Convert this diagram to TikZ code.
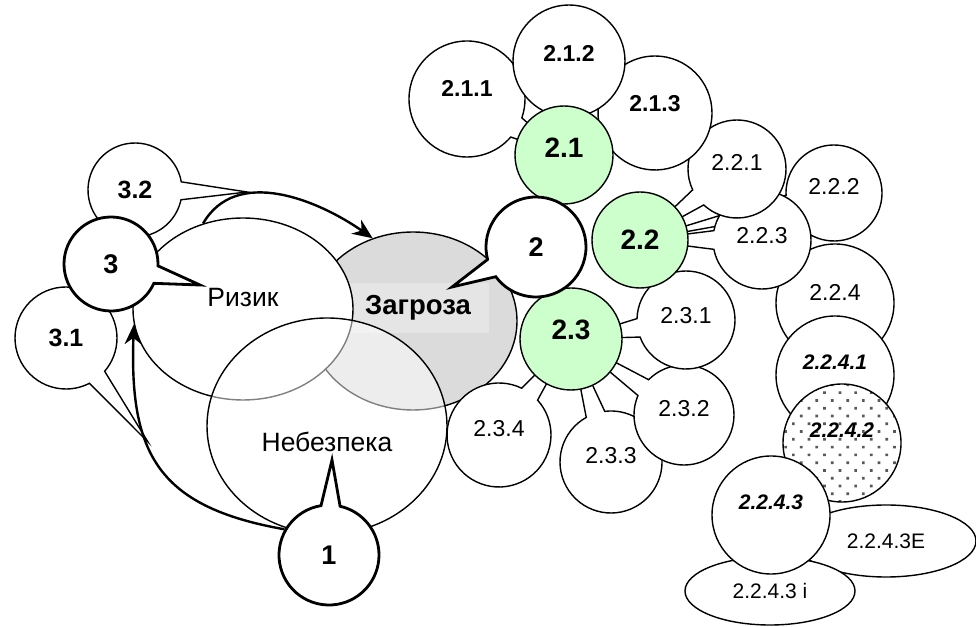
\documentclass[tikz,border=0pt]{standalone}
\usepackage{fontspec}
\setmainfont{Liberation Sans}
\usetikzlibrary{shapes.geometric,shapes.callouts,arrows.meta,patterns.meta}

\begin{document}
\begin{tikzpicture}[x=1pt,y=1pt,
    kid/.style={ellipse callout, draw, fill=white, line width=1.4pt, minimum size=#1,
      inner sep=0pt, callout pointer arc=22, text depth=14pt, font=\fontsize{23}{27}\selectfont},
    kidb/.style={kid=#1, font=\fontsize{23}{27}\selectfont\bfseries},
    ring/.style={circle, draw, fill=white, line width=1.4pt, minimum size=#1, inner sep=0pt,
      text depth=26pt, font=\fontsize{21}{25}\selectfont\bfseries\itshape},
    oval/.style={ellipse, draw, fill=white, line width=1.4pt, inner sep=0pt,
      font=\fontsize{21}{25}\selectfont},
    hub/.style={circle, draw, fill=green!20, line width=1.4pt, minimum size=#1, inner sep=0pt,
      text depth=14pt, font=\fontsize{28}{32}\selectfont\bfseries},
    lead/.style={ellipse callout, draw, fill=white, line width=2.8pt, minimum size=#1,
      inner sep=0pt, callout pointer arc=22, font=\fontsize{27}{31}\selectfont\bfseries},
    area/.style={ellipse, draw, line width=1.4pt, inner sep=0pt, font=\fontsize{26.5}{30}\selectfont},
    flow/.style={line width=2.4pt, -{Stealth[length=20pt, width=17pt]}}]
  \useasboundingbox (0,0) rectangle (976,626);

  % three overlapping notions
  \node[area, fill=black!14, minimum width=208pt, minimum height=178pt] (zagroza) at (413,305) {};
  \node[fill=black!10, minimum width=141pt, minimum height=50pt, inner sep=0pt,
    font=\fontsize{27.5}{31}\selectfont\bfseries] (zlabel) at (418,318) {Загроза};
  \node[area, fill=white, minimum width=220pt, minimum height=182pt, text depth=24pt] (rizyk) at (243,317) {Ризик};
  \node[area, fill=white, fill opacity=0.5, text opacity=1, minimum width=240pt, minimum height=216pt,
    text height=52pt] (nebezpeka) at (327,200) {Небезпека};

  \draw[flow] (rizyk.115) to[out=60, in=145] (zagroza.116);

  % left callouts
  \coordinate (t32) at (247,434);
  \coordinate (t31) at (148,184);
  \coordinate (t3) at (200,341);
  \coordinate (t1) at (332,166);
  \coordinate (t2) at (452,339);
  \node[kid=94, text depth=0pt, font=\fontsize{25}{29}\selectfont\bfseries,
    callout absolute pointer={(t32)}] (c32) at (135,436) {3.2};
  \node[kid=102, text depth=0pt, font=\fontsize{25}{29}\selectfont\bfseries,
    callout absolute pointer={(t31)}] (c31) at (66,288) {3.1};
  \node[lead=94, callout absolute pointer={(t3)}] (c3) at (111,362) {3};
  \node[lead=100, callout absolute pointer={(t1)}] (c1) at (329,71) {1};

  \draw[flow] (c1.150) to[out=170, in=-92, looseness=1.3] (rizyk.188);

  % right cluster
  \coordinate (p21) at (564,471);
  \coordinate (p22) at (640,386);
  \coordinate (p23) at (571,287);

  \node[kid=104, callout absolute pointer={(p23)}] (n234) at (499,191) {2.3.4};
  \node[kid=102, callout absolute pointer={(p23)}] (n233) at (611,164) {2.3.3};
  \node[kid=100, callout absolute pointer={(p23)}] (n232) at (684,211) {2.3.2};
  \node[kid=98, text depth=10pt, callout absolute pointer={(p23)}] (n231) at (686,306) {2.3.1};

  \node[ring=118, text depth=22pt, font=\fontsize{23}{27}\selectfont] (n224) at (835,323) {2.2.4};
  \node[ring=118] (n2241) at (835,251) {2.2.4.1};
  \node[ring=118, preaction={fill=white}, pattern={Dots[radius=1.9pt, distance=11pt, angle=45]},
    pattern color=black!65] (n2242) at (842,183) {2.2.4.2};
  \node[oval, minimum width=180pt, minimum height=72pt] (n2243e) at (886,85) {2.2.4.3E};
  \node[oval, minimum width=170pt, minimum height=68pt] (n2243i) at (770,35) {2.2.4.3 i};
  \node[ring=118] (n2243) at (771,111) {2.2.4.3};

  \node[kid=96, callout absolute pointer={(p22)}] (n222) at (834,433) {2.2.2};
  \node[kid=98, text depth=10pt, callout absolute pointer={(p22)}] (n223) at (762,386) {2.2.3};
  \node[kid=98, callout absolute pointer={(p22)}] (n221) at (737,457) {2.2.1};

  \node[kidb=114, text depth=20pt, callout absolute pointer={(p21)}] (n213) at (655,513) {2.1.3};
  \node[kidb=116, text depth=22pt, callout absolute pointer={(p21)}] (n211) at (467,527) {2.1.1};
  \node[kidb=112, text depth=16pt, callout absolute pointer={(p21)}] (n212) at (569,565) {2.1.2};

  \node[hub=102, text depth=18pt] (n23) at (p23) {2.3};
  \node[hub=96, text depth=0pt] (n22) at (p22) {2.2};
  \node[hub=98] (n21) at (p21) {2.1};

  \node[lead=100, callout absolute pointer={(t2)}] (c2) at (536,379) {2};
\end{tikzpicture}
\end{document}
